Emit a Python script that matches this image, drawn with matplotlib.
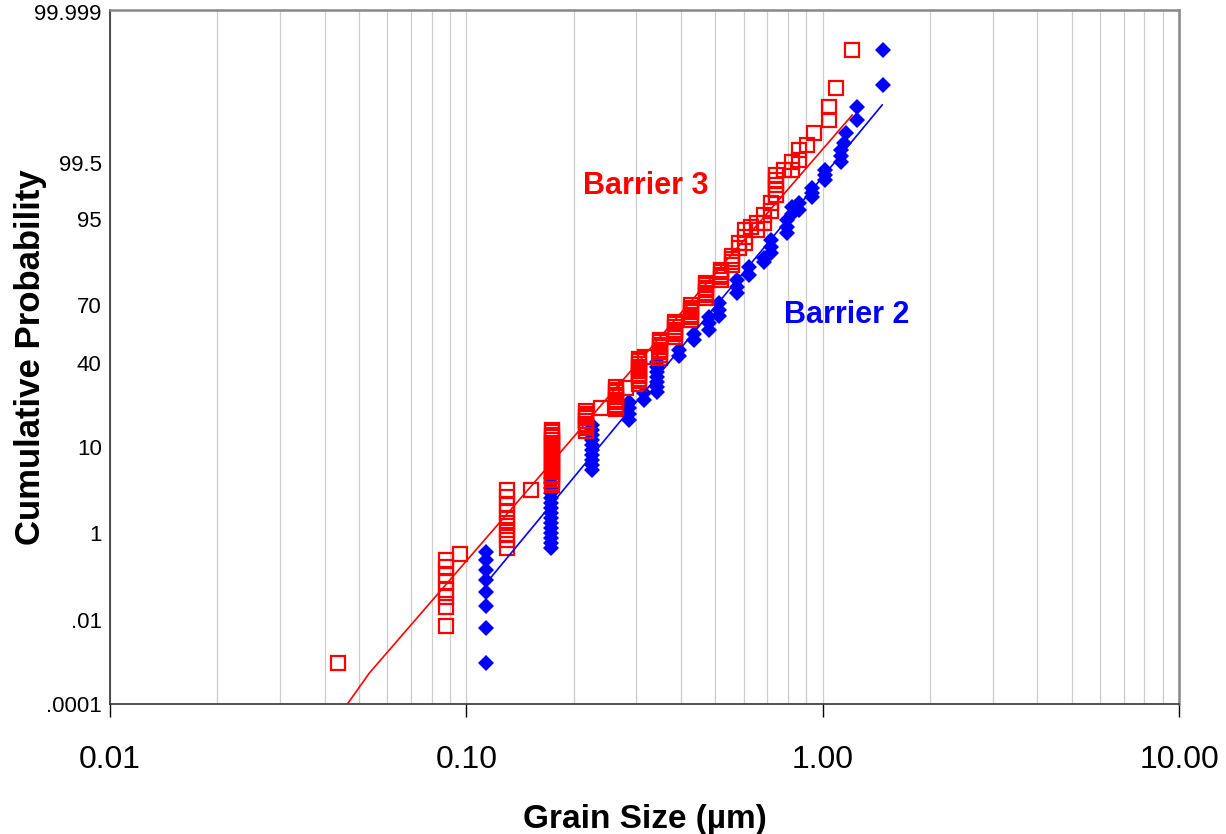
from statistics import NormalDist
import numpy as np
import matplotlib
matplotlib.use('Agg')
import matplotlib.pyplot as plt
from matplotlib.ticker import FixedLocator, LogLocator, FuncFormatter, NullLocator, NullFormatter

# Barrier 3 grains: size (um) and cumulative probability (%)
RED_SIZE = [
    0.04375,
    0.08788, 0.08788, 0.08788, 0.08788, 0.08788, 0.08788, 0.08788, 0.08788,
    0.0962,
    0.1303, 0.1303, 0.1303, 0.1303, 0.1303, 0.1303, 0.1303, 0.1303, 0.1303, 0.1303,
    0.1522,
    0.1743, 0.1743, 0.1743, 0.1743, 0.1743, 0.1743, 0.1743, 0.1743, 0.1743, 0.1743, 0.1743, 0.1743,
    0.1743, 0.1743, 0.1743, 0.1743, 0.1743, 0.1743, 0.1743, 0.1743, 0.1743, 0.1743, 0.1743,
    0.2171, 0.2171, 0.2171, 0.2171, 0.2171, 0.2171, 0.2171, 0.2171, 0.2171,
    0.2392,
    0.2635, 0.2635, 0.2635, 0.2635, 0.2635, 0.2635, 0.2635, 0.2635, 0.2635, 0.2635,
    0.2811,
    0.3057, 0.3057, 0.3057, 0.3057, 0.3057, 0.3057, 0.3057, 0.3057, 0.3057, 0.3057, 0.3057,
    0.3178,
    0.3501, 0.3501, 0.3501, 0.3501, 0.3501, 0.3501, 0.3501, 0.3501,
    0.3857, 0.3857, 0.3857, 0.3857, 0.3857, 0.3857, 0.3857,
    0.4277, 0.4277, 0.4277, 0.4277, 0.4277, 0.4277, 0.4277,
    0.4712, 0.4712, 0.4712, 0.4712, 0.4712, 0.4712, 0.4712,
    0.5191, 0.5191, 0.5191, 0.5191, 0.5191,
    0.5574, 0.5574, 0.5574, 0.5574,
    0.5831, 0.5831,
    0.6062, 0.6062, 0.6062,
    0.6301,
    0.655, 0.655,
    0.6853, 0.6853,
    0.717, 0.717,
    0.7406, 0.7406, 0.7406, 0.7406, 0.7406,
    0.7798,
    0.8212, 0.8212,
    0.8592, 0.8592,
    0.9047,
    0.9466,
    1.043, 1.043,
    1.091,
    1.21,
]
RED_PCT = [
    0.001076,
    0.2903, 0.2048, 0.1356, 0.09331, 0.06002, 0.04028, 0.02233, 0.007445,
    0.3878,
    3.562, 2.945, 2.351, 1.917, 1.601, 1.373, 1.101, 0.9178, 0.7376, 0.5137,
    3.562,
    14.15, 13.48, 12.83, 12.2, 11.59, 11.0, 10.44, 9.894, 9.375, 8.877, 8.399, 7.94,
    7.501, 7.08, 6.678, 6.293, 5.926, 5.577, 5.243, 4.926, 4.624, 4.337, 4.065,
    20.02, 19.17, 18.35, 17.55, 16.77, 16.01, 15.28, 14.57, 13.88,
    21.06,
    29.21, 28.17, 27.15, 26.14, 25.16, 24.19, 23.25, 22.32, 21.42, 20.54,
    28.8,
    42.09, 40.78, 39.53, 38.35, 37.19, 36.04, 34.9, 33.78, 32.66, 31.57, 30.49,
    43.14,
    52.2, 50.86, 49.52, 48.19, 46.85, 45.52, 44.19, 42.87,
    61.66, 60.37, 59.07, 57.76, 56.45, 55.13, 53.8,
    70.0, 68.82, 67.63, 66.42, 65.18, 63.94, 62.68,
    79.13, 78.19, 77.21, 76.22, 75.2, 74.16, 73.09,
    83.66, 82.84, 82.0, 81.13, 80.24,
    87.75, 86.94, 86.1, 85.21,
    90.86, 89.74,
    93.34, 92.08, 90.86,
    93.83,
    94.44, 93.34,
    95.65, 94.44,
    97.2, 96.23,
    99.1257, 98.91, 98.65, 98.33, 97.95,
    99.3043,
    99.5159, 99.3043,
    99.6748, 99.5465,
    99.7258,
    99.8201,
    99.9318, 99.8882,
    99.9681,
    99.9938,
]

# Barrier 2 grains
BLUE_SIZE = [
    0.1138, 0.1138, 0.1138, 0.1138, 0.1138, 0.1138, 0.1138, 0.1138,
    0.1732, 0.1732, 0.1732, 0.1732, 0.1732, 0.1732, 0.1732, 0.1732, 0.1732, 0.1732, 0.1732, 0.1732,
    0.1732, 0.1732, 0.1732,
    0.2257, 0.2257, 0.2257, 0.2257, 0.2257, 0.2257, 0.2257, 0.2257, 0.2257, 0.2257,
    0.2866, 0.2866, 0.2866, 0.2866,
    0.3157, 0.3157,
    0.3434, 0.3434, 0.3434, 0.3434, 0.3434, 0.3434, 0.3434,
    0.3958, 0.3958,
    0.4361, 0.4361,
    0.4804, 0.4804, 0.4804,
    0.5125, 0.5125, 0.5125,
    0.5757, 0.5757, 0.5757,
    0.6221, 0.6221,
    0.6853, 0.6853,
    0.717, 0.717, 0.717,
    0.7951, 0.7951, 0.7951,
    0.8212, 0.8212,
    0.8592, 0.8592,
    0.9344, 0.9344, 0.9344,
    1.016, 1.016, 1.016,
    1.127, 1.127, 1.127,
    1.149,
    1.164,
    1.25, 1.25,
    1.478, 1.478,
]
BLUE_PCT = [
    0.4263, 0.2903, 0.1758, 0.1039, 0.05362, 0.02371, 0.00674, 0.001076,
    4.864, 4.282, 3.757, 3.286, 2.864, 2.489, 2.156, 1.861, 1.601, 1.373, 1.174, 1.0,
    0.8056, 0.6452, 0.5137,
    15.57, 14.15, 12.83, 11.59, 10.44, 9.375, 8.399, 7.501, 6.678, 5.927,
    23.25, 21.06, 19.01, 17.08,
    26.74, 24.0,
    40.52, 38.12, 35.81, 33.55, 31.35, 29.21, 27.15,
    46.85, 43.66,
    55.39, 52.2,
    64.19, 61.14, 57.5,
    70.9, 67.63, 64.69,
    80.24, 77.6, 75.2,
    84.6, 82.0,
    87.22, 86.1,
    91.49, 89.97, 88.53,
    94.86, 93.83, 92.82,
    96.74, 95.8,
    97.2, 96.36,
    98.46, 98.11, 97.78,
    99.304, 99.126, 98.908,
    99.675, 99.602, 99.516,
    99.744,
    99.82,
    99.932, 99.888,
    99.9938, 99.9718,
]

# fitted lognormal lines
RED_FIT_SIZE = [0.04637, 0.05345, 1.21]
RED_FIT_PCT = [0.0001, 0.000616, 99.907]
BLUE_FIT_SIZE = [0.1175, 1.469]
BLUE_FIT_PCT = [0.122, 99.937]

SIZE_TICKS = [0.01, 0.1, 1, 10]
PROB_TICKS = [0.0001, 0.01, 1, 10, 40, 70, 95, 99.5, 99.999]
PROB_LABELS = ['.0001', '.01', '1', '10', '40', '70', '95', '99.5', '99.999']
# height of each probability label above the x axis (px), axis runs 0..694
PROB_HEIGHT = [0, 84, 171, 257, 341, 399, 485, 541, 692]


# probability axis: normal quantile, stretched piecewise between the labels
nd = NormalDist()
tz = np.array([nd.inv_cdf(p / 100) for p in PROB_TICKS])
th = np.array(PROB_HEIGHT, float)
lo = (th[1] - th[0]) / (tz[1] - tz[0])
hi = (th[-1] - th[-2]) / (tz[-1] - tz[-2])
zs = np.concatenate([[tz[0] - 2], tz, [tz[-1] + 2]])
hs = np.concatenate([[th[0] - 2 * lo], th, [th[-1] + 2 * hi]])

inv_cdf = np.vectorize(lambda q: nd.inv_cdf(min(max(q, 1e-15), 1 - 1e-15)), otypes=[float])
cdf = np.vectorize(nd.cdf, otypes=[float])


def prob_forward(pct):
    return np.interp(inv_cdf(np.asarray(pct, float) / 100), zs, hs)


def prob_inverse(h):
    return cdf(np.interp(h, hs, zs)) * 100


plt.rcParams['font.family'] = ['Liberation Sans', 'DejaVu Sans']
fig = plt.figure(figsize=(12.26, 8.34), dpi=100)
ax = fig.add_axes([110 / 1226, 130 / 834, 1069 / 1226, 694 / 834])
ax.set_xscale('log')
ax.set_yscale('function', functions=(prob_forward, prob_inverse))

ax.plot(BLUE_SIZE, BLUE_PCT, 'D', ms=8, color='#0000ff', mew=0, zorder=2)
ax.plot(RED_SIZE, RED_PCT, 's', ms=10.5, mfc='none', mec='#ff0000', mew=1.6, zorder=3)
ax.plot(BLUE_FIT_SIZE, BLUE_FIT_PCT, color='#0000ff', lw=1.2, zorder=4)
ax.plot(RED_FIT_SIZE, RED_FIT_PCT, color='#ff0000', lw=1.2, zorder=4)

ax.set_xlim(0.01, 10)
ax.set_ylim(0.0001, float(prob_inverse(694)))

ax.yaxis.set_major_locator(FixedLocator(PROB_TICKS))
ax.set_yticklabels(PROB_LABELS)
ax.yaxis.set_minor_locator(NullLocator())
ax.xaxis.set_major_locator(FixedLocator(SIZE_TICKS))
ax.xaxis.set_major_formatter(FuncFormatter(lambda v, _: '%.2f' % v))
ax.xaxis.set_minor_locator(LogLocator(base=10, subs=np.arange(2, 10)))
ax.xaxis.set_minor_formatter(NullFormatter())
ax.tick_params(axis='x', which='major', direction='out', length=9.5, width=1, color='black',
               labelsize=23, pad=20)
ax.tick_params(axis='x', which='minor', length=0)
ax.tick_params(axis='y', length=0, labelsize=16, pad=6)
ax.grid(True, axis='x', which='both', color='#cccccc', lw=0.9)
ax.set_axisbelow(True)

for s in ('left', 'bottom'):
    ax.spines[s].set_color('#333333')
    ax.spines[s].set_linewidth(1.2)
for s in ('top', 'right'):
    ax.spines[s].set_color('#888888')
    ax.spines[s].set_linewidth(1.8)

ax.text(0.2119, 98.03, 'Barrier 3', color='#ff0000', fontsize=22, weight='bold',
        ha='left', va='baseline')
ax.text(0.7798, 61.14, 'Barrier 2', color='#0000ff', fontsize=22, weight='bold',
        ha='left', va='baseline')

fig.text(645 / 1226, 6 / 834, 'Grain Size (µm)', fontsize=24, weight='bold',
         ha='center', va='baseline')
fig.text(31 / 1226, 477 / 834, 'Cumulative Probability', fontsize=25, weight='bold',
         rotation=90, ha='center', va='center')

plt.savefig('out.png')
